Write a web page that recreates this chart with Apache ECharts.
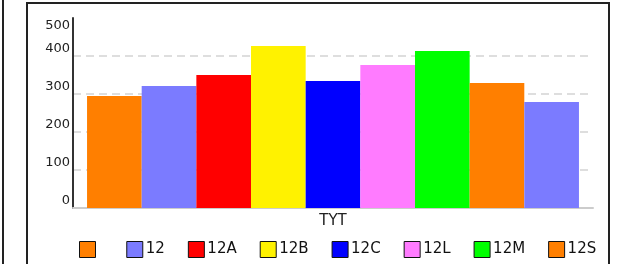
<!DOCTYPE html>
<html>
<head>
<meta charset="utf-8">
<script src="https://cdn.jsdelivr.net/npm/echarts@6/dist/echarts.min.js"></script>
<style>
  html, body { margin: 0; padding: 0; background: #fff; }
  #chart { width: 625px; height: 264px; }
</style>
</head>
<body>
<div id="chart"></div>
<script>
// data
const categories = ['TYT'];
const seriesNames = [' ', '12', '12A', '12B', '12C', '12L', '12M', '12S', '12T'];
const seriesValues = [295, 321, 350, 426, 334, 376, 413, 329, 279];
const legendNames = [' ', '12', '12A', '12B', '12C', '12L', '12M', '12S'];

const palette = ['#ff7f00', '#7b7bff', '#ff0000', '#fff200', '#0000ff', '#ff7bff', '#00ff00'];

const chart = echarts.init(document.getElementById('chart'), null, { renderer: 'canvas' });

const option = {
  animation: false,
  color: palette,
  textStyle: { fontFamily: 'DejaVu Sans' },
  grid: { left: 73, right: 32, top: 18, bottom: 56, containLabel: false },
  graphic: [
    { type: 'rect', shape: { x: 27, y: 3, width: 582, height: 280 }, style: { fill: 'none', stroke: '#222', lineWidth: 2 }, silent: true },
    { type: 'line', shape: { x1: 3, y1: 0, x2: 3, y2: 264 }, style: { stroke: '#222', lineWidth: 2 }, silent: true }
  ],
  legend: {
    data: legendNames,
    left: 74,
    top: 236,
    icon: 'rect',
    itemWidth: 16,
    itemHeight: 16,
    itemGap: 23,
    textStyle: { fontSize: 15, color: '#111', padding: [0, 0, 0, -2] },
    itemStyle: { borderColor: '#111', borderWidth: 1 }
  },
  xAxis: {
    type: 'category',
    data: categories,
    axisLine: { lineStyle: { color: '#ccc', width: 2 } },
    axisTick: { show: false },
    axisLabel: { fontSize: 15, color: '#222', margin: 6 }
  },
  yAxis: {
    type: 'value',
    min: 0,
    max: 500,
    interval: 100,
    axisLine: { show: true, lineStyle: { color: '#333', width: 2 } },
    axisTick: { show: false },
    axisLabel: {
      fontSize: 13,
      color: '#222',
      margin: 3,
      formatter: v => (v === 500 ? '{b|' + v + '}' : '{a|' + v + '}'),
      rich: {
        a: { fontSize: 13, color: '#222', padding: [0, 0, 14, 0] },
        b: { fontSize: 13, color: '#222', padding: [16, 0, 0, 0] }
      }
    },
    splitLine: {
      lineStyle: { width: 1.5, type: [8, 5], color: ['#d4d4d4', '#d4d4d4', '#d4d4d4', '#d4d4d4', '#d4d4d4', 'rgba(0,0,0,0)'] }
    }
  },
  series: seriesNames.map((name, i) => ({
    name: name,
    type: 'bar',
    data: [seriesValues[i]],
    barGap: '0%',
    barCategoryGap: '5.4%',
    itemStyle: { color: palette[i % palette.length] }
  }))
};

chart.setOption(option);
</script>
</body>
</html>
